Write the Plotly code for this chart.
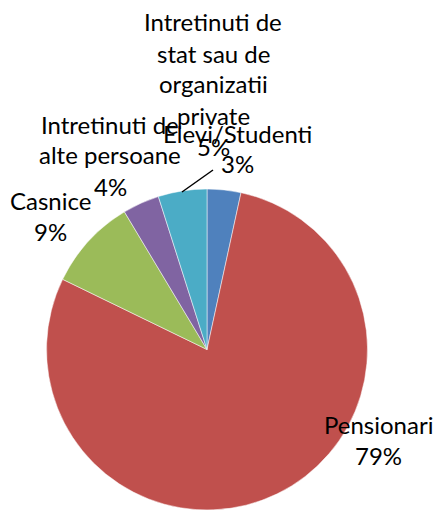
import plotly.graph_objects as go

categories = ["Elevi/Studenti", "Pensionari", "Casnice",
              "Intretinuti de alte persoane",
              "Intretinuti de stat sau de organizatii private"]
values = [3.4, 78.8, 9.2, 3.7, 4.9]
pct_labels = ["3%", "79%", "9%", "4%", "5%"]
colors = ["#4F81BD", "#C0504D", "#9BBB59", "#8064A2", "#4BACC6"]

# label line breaks as in the original chart
label_lines = [
    ["Elevi/Studenti"],
    ["Pensionari"],
    ["Casnice"],
    ["Intretinuti de", "alte persoane"],
    ["Intretinuti de", "stat sau de", "organizatii", "private"],
]

OFF = 8  # page body margin
W, H = 442 - OFF, 510 - OFF


def px(x):
    return (x - OFF) / W


def py(y):
    return 1 - (y - OFF) / H


# label anchor (center x, first-line center y) in page pixels
label_pos = [(237, 133), (378, 424), (50, 200), (110, 124), (213, 22)]
line_step = 31

fig = go.Figure(go.Pie(
    labels=categories, values=values, sort=False, direction="clockwise",
    rotation=0, textinfo="none", hoverinfo="label+percent",
    marker=dict(colors=colors, line=dict(color="white", width=0.5)),
    domain=dict(x=[px(45), px(369)], y=[0, py(189)]),
    showlegend=False,
))

font = dict(family="Lato, Calibri, sans-serif", size=24, color="black")
for lines, pct, (cx, cy) in zip(label_lines, pct_labels, label_pos):
    for i, t in enumerate(lines + [pct]):
        fig.add_annotation(x=px(cx), y=py(cy + i * line_step),
                           xref="paper", yref="paper", text=t,
                           showarrow=False, font=font,
                           xanchor="center", yanchor="middle")

# leader line for the 5% label
fig.add_shape(type="line", xref="paper", yref="paper",
              x0=px(182), y0=py(192), x1=px(213), y1=py(170),
              line=dict(color="black", width=1.5))

fig.update_layout(width=W, height=H, margin=dict(l=0, r=0, t=0, b=0),
                  paper_bgcolor="white", plot_bgcolor="white")
fig.write_html("out.html")
